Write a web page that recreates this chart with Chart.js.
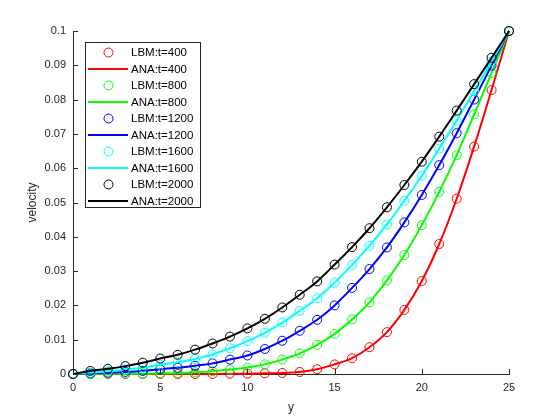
<!DOCTYPE html>
<html>
<head>
<meta charset="utf-8">
<script src="https://cdn.jsdelivr.net/npm/chart.js@4.4.1/dist/chart.umd.min.js"></script>
<style>
  html, body { margin: 0; padding: 0; background: #fff; }
</style>
</head>
<body>
<canvas id="myChart" width="560" height="420"></canvas>
<script>
'use strict';

// DATA

let yPos = [0, 1, 2, 3, 4, 5, 6, 7, 8, 9, 10, 11, 12, 13, 14, 15, 16, 17, 18, 19, 20, 21, 22, 23, 24, 25];

let vel400 = [0, 0, 0, 0, 0, 0, 0, 0, 0, 0.0001, 0.0001, 0.0002, 0.0003, 0.0006, 0.0014, 0.0028, 0.0046, 0.0078, 0.0122, 0.0187, 0.0271, 0.0379, 0.0511, 0.0663, 0.0828, 0.1];
let vel800 = [0, 0, 0.0001, 0.0001, 0.0001, 0.0002, 0.0003, 0.0005, 0.0008, 0.0013, 0.0019, 0.0028, 0.0042, 0.0060, 0.0085, 0.0117, 0.0159, 0.0209, 0.0273, 0.0347, 0.0434, 0.0531, 0.0638, 0.0757, 0.0878, 0.1];
let vel1200 = [0, 0.0002, 0.0004, 0.0006, 0.0009, 0.0014, 0.0018, 0.0024, 0.0031, 0.0042, 0.0054, 0.0073, 0.0097, 0.0126, 0.0158, 0.0200, 0.0251, 0.0306, 0.0369, 0.0442, 0.0522, 0.0609, 0.0702, 0.0800, 0.0899, 0.1];
let vel1600 = [0, 0.0004, 0.0008, 0.0013, 0.0019, 0.0027, 0.0034, 0.0044, 0.0057, 0.0075, 0.0096, 0.0120, 0.0150, 0.0184, 0.0221, 0.0266, 0.0318, 0.0374, 0.0436, 0.0505, 0.0578, 0.0657, 0.0739, 0.0825, 0.0911, 0.1];
let vel2000 = [0, 0.0009, 0.0015, 0.0023, 0.0033, 0.0045, 0.0056, 0.0071, 0.0089, 0.0109, 0.0133, 0.0161, 0.0194, 0.0231, 0.0270, 0.0319, 0.0370, 0.0425, 0.0486, 0.0551, 0.0619, 0.0692, 0.0768, 0.0845, 0.0922, 0.1];

let timeLabels = ['400', '800', '1200', '1600', '2000'];
let allVel = [vel400, vel800, vel1200, vel1600, vel2000];

let xTicks = [0, 5, 10, 15, 20, 25];
let yTicks = [0, 0.01, 0.02, 0.03, 0.04, 0.05, 0.06, 0.07, 0.08, 0.09, 0.1];

// STYLE

let seriesColors = ['#ff0000', '#00ff00', '#0000ff', '#00ffff', '#000000'];
let axisColor = '#262626';
let fontFamily = '"Liberation Sans", Arial, Helvetica, sans-serif';

function toPoints(values) {
  let pts = [];
  for (let i = 0; i < yPos.length; i++) {
    pts.push({ x: yPos[i], y: values[i] });
  }
  return pts;
}

// build datasets: LBM circles + analytic line per time
let datasets = [];
for (let i = 0; i < timeLabels.length; i++) {
  datasets.push({
    label: 'LBM:t=' + timeLabels[i],
    data: toPoints(allVel[i]),
    showLine: false,
    pointStyle: 'circle',
    pointRadius: 4.5,
    pointBorderWidth: 1,
    pointBorderColor: seriesColors[i],
    pointBackgroundColor: 'rgba(0,0,0,0)',
    borderColor: seriesColors[i],
    clip: false,
    order: 20 - i * 2
  });
  datasets.push({
    label: 'ANA:t=' + timeLabels[i],
    data: toPoints(allVel[i]),
    showLine: true,
    pointRadius: 0,
    borderWidth: 2,
    borderColor: seriesColors[i],
    cubicInterpolationMode: 'monotone',
    fill: false,
    clip: false,
    order: 19 - i * 2
  });
}

// inward tick marks on left and bottom axes (MATLAB look)
const innerTicks = {
  id: 'innerTicks',
  afterDraw(chart) {
    let ctx = chart.ctx;
    let xs = chart.scales.x;
    let ys = chart.scales.y;
    let area = chart.chartArea;
    ctx.save();
    ctx.strokeStyle = axisColor;
    ctx.lineWidth = 1;
    ctx.beginPath();
    for (let i = 0; i < xTicks.length; i++) {
      let px = Math.round(xs.getPixelForValue(xTicks[i])) + 0.5;
      ctx.moveTo(px, area.bottom);
      ctx.lineTo(px, area.bottom - 5);
    }
    for (let i = 0; i < yTicks.length; i++) {
      let py = Math.round(ys.getPixelForValue(yTicks[i])) + 0.5;
      ctx.moveTo(area.left, py);
      ctx.lineTo(area.left + 5, py);
    }
    ctx.stroke();
    ctx.restore();
  }
};

// boxed legend in the upper left, drawn like MATLAB's
const boxLegend = {
  id: 'boxLegend',
  afterDraw(chart) {
    let ctx = chart.ctx;
    let left = 85.5, top = 42.5, w = 115, h = 165;
    ctx.save();
    ctx.fillStyle = '#ffffff';
    ctx.fillRect(left, top, w, h);
    ctx.strokeStyle = axisColor;
    ctx.lineWidth = 1;
    ctx.strokeRect(left, top, w, h);
    ctx.font = '11.5px ' + fontFamily;
    ctx.textBaseline = 'middle';
    ctx.textAlign = 'left';
    for (let i = 0; i < datasets.length; i++) {
      let ds = datasets[i];
      let cy = 52.5 + 16.5 * i;
      if (ds.showLine) {
        ctx.strokeStyle = ds.borderColor;
        ctx.lineWidth = 2;
        ctx.beginPath();
        ctx.moveTo(88, cy);
        ctx.lineTo(128, cy);
        ctx.stroke();
      } else {
        ctx.strokeStyle = ds.borderColor;
        ctx.lineWidth = 1;
        ctx.beginPath();
        ctx.arc(108.5, cy, 4.5, 0, Math.PI * 2);
        ctx.stroke();
      }
      ctx.fillStyle = '#000000';
      ctx.fillText(ds.label, 131, cy + 0.5);
    }
    ctx.restore();
  }
};

const config = {
  type: 'line',
  data: { datasets: datasets },
  options: {
    responsive: false,
    animation: false,
    devicePixelRatio: 1,
    layout: {
      padding: { left: 21, right: 51, top: 31, bottom: 1 }
    },
    plugins: {
      legend: { display: false },
      tooltip: { enabled: false }
    },
    scales: {
      x: {
        type: 'linear',
        min: 0,
        max: 25,
        afterFit: function(scale) { scale.height = 45; },
        afterBuildTicks: function(scale) {
          scale.ticks = xTicks.map(v => ({ value: v }));
        },
        grid: { display: false, drawTicks: false },
        border: { display: true, color: axisColor, width: 1 },
        ticks: {
          color: axisColor,
          font: { size: 11, family: fontFamily },
          padding: 7,
          maxRotation: 0
        },
        title: {
          display: true,
          text: 'y',
          color: axisColor,
          font: { size: 12, family: fontFamily },
          padding: { top: 4, bottom: 4 }
        }
      },
      y: {
        type: 'linear',
        min: 0,
        max: 0.1,
        afterFit: function(scale) { scale.width = 52; },
        afterBuildTicks: function(scale) {
          scale.ticks = yTicks.map(v => ({ value: v }));
        },
        grid: { display: false, drawTicks: false },
        border: { display: true, color: axisColor, width: 1 },
        ticks: {
          color: axisColor,
          font: { size: 11, family: fontFamily },
          padding: 7,
          callback: function(value) {
            return String(Number(value.toFixed(2)));
          }
        },
        title: {
          display: true,
          text: 'velocity',
          color: axisColor,
          font: { size: 12, family: fontFamily },
          padding: { top: 4, bottom: 4 }
        }
      }
    }
  },
  plugins: [innerTicks, boxLegend]
};

let canvas = document.getElementById('myChart').getContext('2d');
new Chart(canvas, config);
</script>
</body>
</html>
